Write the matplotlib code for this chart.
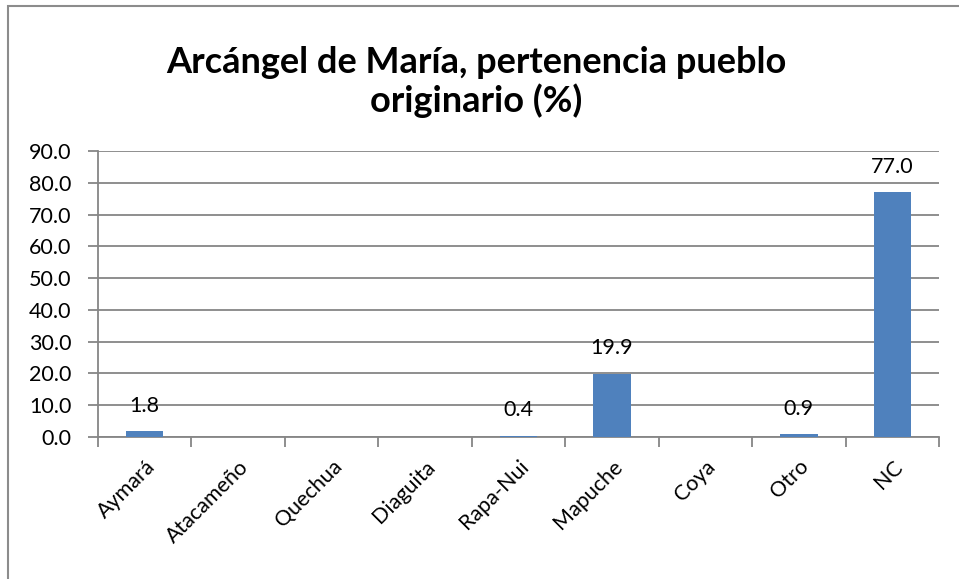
import matplotlib
matplotlib.use("Agg")
import matplotlib.pyplot as plt
from matplotlib.patches import Rectangle
from matplotlib.ticker import FuncFormatter, FixedLocator

categories = ["Aymará", "Atacameño", "Quechua", "Diaguita", "Rapa-Nui",
              "Mapuche", "Coya", "Otro", "NC"]
values = [1.8, 0.0, 0.0, 0.0, 0.4, 19.9, 0.0, 0.9, 77.0]
title = "Arcángel de María, pertenencia pueblo\noriginario (%)"

plt.rcParams['font.family'] = ['Lato', 'DejaVu Sans']

W, H = 959, 579
fig = plt.figure(figsize=(W / 100, H / 100), dpi=100)

# outer chart border (only left/top visible)
fig.patches.append(Rectangle((8 / W, -0.1), 1.2, 1 - 6.5 / H + 0.1,
                             transform=fig.transFigure, fill=False,
                             edgecolor="#8c8c8c", linewidth=1.5))

ax = fig.add_axes([98 / W, 1 - 437 / H, (939 - 98) / W, (437 - 151) / H])

x = list(range(len(categories)))
ax.bar(x, values, width=0.4, color="#4F81BD", zorder=3)

ax.set_xlim(-0.5, len(categories) - 0.5)
ax.set_ylim(0, 90)
ax.set_yticks(range(0, 91, 10))
ax.yaxis.set_major_formatter(FuncFormatter(lambda v, p: f"{v:.1f}"))
ax.grid(axis="y", color="#868686", linewidth=1.3, zorder=0)
ax.set_axisbelow(True)

ax.set_xticks(x)
ax.set_xticklabels(categories, rotation=45, ha="right", va="top",
                   rotation_mode="anchor")
ax.tick_params(axis="x", length=0, labelsize=15.5, pad=14)
ax.xaxis.set_minor_locator(FixedLocator([i - 0.5 for i in range(len(categories) + 1)]))
ax.tick_params(axis="x", which="minor", length=7, color="#868686", width=1.3)
ax.tick_params(axis="y", length=7, color="#868686", width=1.3, labelsize=15.5, pad=12)

for s in ["top", "right"]:
    ax.spines[s].set_visible(False)
for s in ["left", "bottom"]:
    ax.spines[s].set_color("#868686")
    ax.spines[s].set_linewidth(1.3)

for xi, v in zip(x, values):
    if v > 0:
        ax.annotate(f"{v:.1f}", (xi, v), xytext=(0, 11), textcoords="offset points",
                    ha="center", va="bottom", fontsize=15.5)

fig.text(476 / W, 1 - 82 / H, title, ha="center", va="center",
         fontsize=26, fontweight="bold", linespacing=1.12)

fig.savefig("out.png", dpi=100)
